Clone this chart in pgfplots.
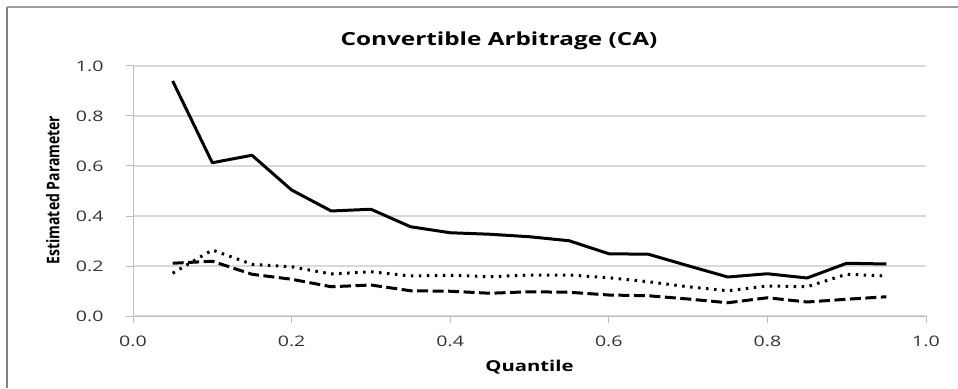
\documentclass[border=0pt]{standalone}
\usepackage{fontspec}
\setmainfont{Open Sans}[FakeStretch=1.35]
\newfontfamily\plainfont{Open Sans}
\usepackage{pgfplots}
\usepackage{pgfplotstable}
\pgfplotsset{compat=1.18}

\definecolor{gridgray}{RGB}{217,217,217}
\definecolor{axisgray}{RGB}{190,190,190}
\definecolor{framegray}{RGB}{130,130,130}
\definecolor{labelgray}{RGB}{50,50,50}

% Estimated parameters by quantile
\pgfplotstableread{
q     solid  dotted  dashed
0.05  0.940  0.171   0.211
0.10  0.613  0.264   0.219
0.15  0.643  0.207   0.167
0.20  0.504  0.197   0.147
0.25  0.420  0.168   0.117
0.30  0.427  0.177   0.124
0.35  0.357  0.160   0.101
0.40  0.333  0.163   0.099
0.45  0.327  0.157   0.091
0.50  0.317  0.164   0.097
0.55  0.301  0.164   0.095
0.60  0.249  0.153   0.084
0.65  0.247  0.137   0.081
0.70  0.201  0.117   0.068
0.75  0.156  0.101   0.053
0.80  0.169  0.120   0.073
0.85  0.152  0.117   0.056
0.90  0.211  0.167   0.067
0.95  0.208  0.160   0.077
}\catable

\begin{document}
\begin{tikzpicture}[x=1bp,y=1bp]
\begin{axis}[
  at={(133bp,72bp)}, anchor=south west,
  scale only axis, width=793bp, height=250bp,
  xmin=0, xmax=1, ymin=0, ymax=1,
  xtick={0,0.2,0.4,0.6,0.8,1.0},
  ytick={0,0.2,0.4,0.6,0.8,1.0},
  /pgf/number format/assume math mode=true,
  /pgf/number format/.cd, fixed, fixed zerofill, precision=1, /pgfplots/.cd,
  axis x line*=bottom, axis y line*=left,
  axis line style={axisgray, line width=1bp},
  ymajorgrids, grid style={gridgray, line width=1.6bp},
  major tick length=7bp,
  tick style={axisgray, line width=1bp},
  tick align=outside,
  ticklabel style={font=\fontsize{14.5bp}{17bp}\selectfont, text=labelgray},
  xticklabel style={yshift=-9bp},
  yticklabel style={xshift=-19bp},
  title={Convertible Arbitrage (CA)},
  title style={at={(axis description cs:0.4615,1.078)}, anchor=center,
    font=\fontsize{18bp}{21bp}\selectfont\bfseries},
  xlabel={Quantile},
  xlabel style={at={(axis description cs:0.5,-0.205)}, anchor=center,
    font=\fontsize{15bp}{18bp}\selectfont\bfseries},
  ylabel={Estimated Parameter},
  ylabel style={at={(axis description cs:-0.101,0.504)}, anchor=center, yscale=1.25,
    font=\plainfont\fontsize{14bp}{17bp}\selectfont\bfseries},
  clip=false,
]
\addplot[black, line width=3bp, line join=round] table[x=q, y=solid] {\catable};
\addplot[black, line width=3bp, line cap=butt, dash pattern=on 2.5bp off 5.5bp] table[x=q, y=dotted] {\catable};
\addplot[black, line width=3bp, line cap=butt, dash pattern=on 11bp off 4.5bp] table[x=q, y=dashed] {\catable};
\end{axis}
\draw[framegray, line width=2bp] (7,0) -- (7,381);
\draw[framegray!80, line width=1.5bp] (7,381) -- (958,381);
\pgfresetboundingbox
\useasboundingbox (0,0) rectangle (958,388);
\end{tikzpicture}
\end{document}
